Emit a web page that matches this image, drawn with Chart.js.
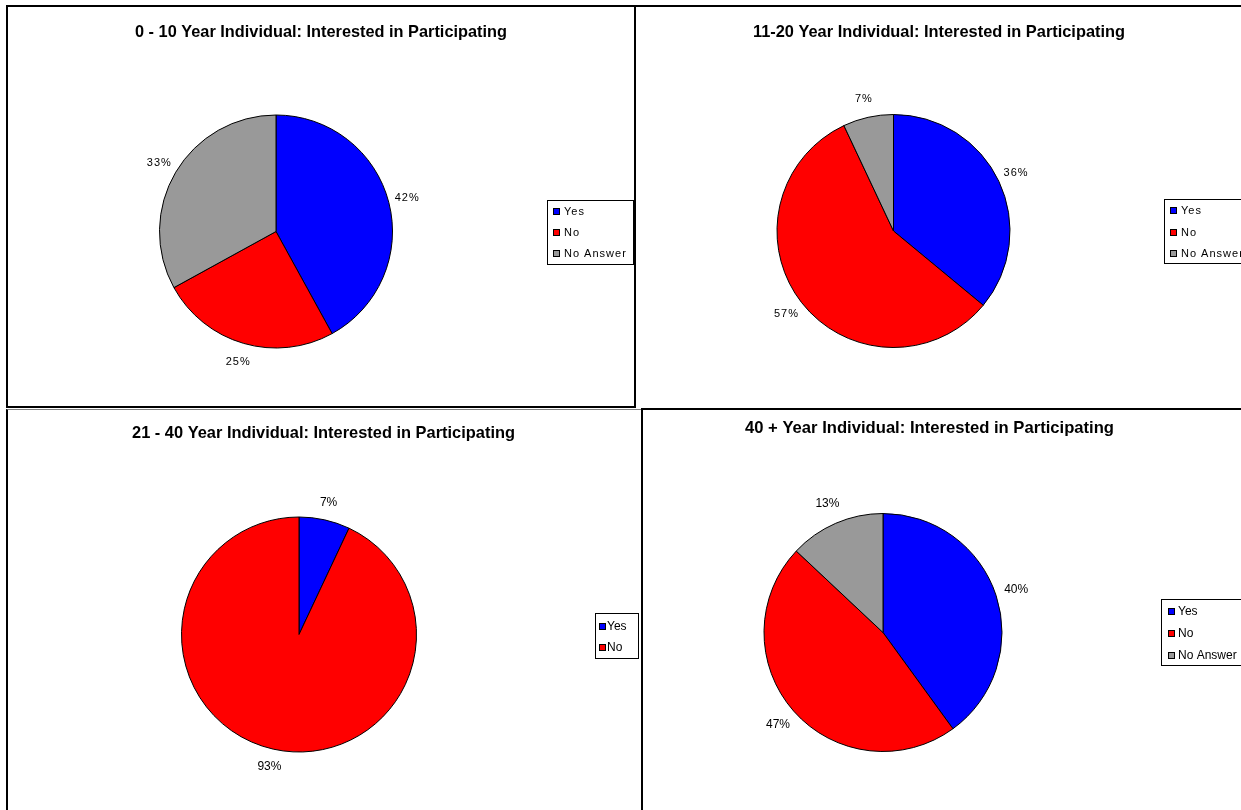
<!DOCTYPE html>
<html>
<head>
<meta charset="utf-8">
<title>Individual: Interested in Participating</title>
<script src="https://cdn.jsdelivr.net/npm/chart.js@4.4.1/dist/chart.umd.min.js"></script>
<style>
  html, body { margin: 0; padding: 0; background: #fff; width: 1241px; height: 810px; overflow: hidden; }
  .panel { position: absolute; box-sizing: border-box; border: 2px solid #000; background: #fff; overflow: hidden; }
  .panel canvas { position: absolute; left: 0; top: 0; }
  #p2 { border-bottom: none; }
  #p3 { border-top: 1px solid #808080; }
</style>
</head>
<body>
<div class="panel" id="p1" style="left:6px;top:5px;width:630px;height:403px"><canvas id="c1" width="626" height="399"></canvas></div>
<div class="panel" id="p2" style="left:634px;top:5px;width:612px;height:403px"><canvas id="c2" width="608" height="399"></canvas></div>
<div class="panel" id="p3" style="left:6px;top:409px;width:637px;height:410px"><canvas id="c3" width="633" height="406"></canvas></div>
<div class="panel" id="p4" style="left:641px;top:408px;width:610px;height:410px"><canvas id="c4" width="606" height="406"></canvas></div>

<script>
// Response categories and slice colours
const answersFull = ['Yes', 'No', 'No Answer'];
const answersYesNo = ['Yes', 'No'];
const answerColors = ['#0000FF', '#FF0000', '#999999'];

// Chart titles
const title0to10 = '0 - 10 Year Individual: Interested in Participating';
const title11to20 = '11-20 Year Individual: Interested in Participating';
const title21to40 = '21 - 40 Year Individual: Interested in Participating';
const title40plus = '40 + Year Individual: Interested in Participating';

// Share of respondents per answer (percent)
const share0to10 = [42, 25, 33];
const share11to20 = [36, 57, 7];
const share21to40 = [7, 93];
const share40plus = [40, 47, 13];

const FONT = "'Liberation Sans', Arial, sans-serif";
const TITLE_FONT = "'Liberation Sans Narrow', 'Liberation Sans', Arial, sans-serif";

// Title centred at a given point, condensed to the given width
const panelTitle = {
  id: 'panelTitle',
  afterDraw(chart, args, o) {
    const ctx = chart.ctx;
    ctx.save();
    ctx.font = 'bold ' + o.size + 'px ' + TITLE_FONT;
    ctx.fillStyle = '#000';
    ctx.textAlign = 'center';
    ctx.textBaseline = 'middle';
    const w = ctx.measureText(o.text).width;
    const sx = o.width ? o.width / w : 1;
    ctx.translate(o.x, o.y);
    ctx.scale(sx, 1);
    ctx.fillText(o.text, 0, 0);
    ctx.restore();
  }
};

// Percentage labels placed just outside each slice
const outsideLabels = {
  id: 'outsideLabels',
  afterDatasetsDraw(chart, args, o) {
    const ctx = chart.ctx;
    const values = chart.data.datasets[0].data;
    const total = values.reduce((a, b) => a + b, 0);
    ctx.save();
    ctx.font = o.size + 'px ' + FONT;
    if ('letterSpacing' in ctx) ctx.letterSpacing = (o.spacing || 0) + 'px';
    ctx.fillStyle = '#000';
    ctx.textAlign = 'center';
    ctx.textBaseline = 'middle';
    chart.getDatasetMeta(0).data.forEach((arc, i) => {
      const p = arc.getProps(['x', 'y', 'startAngle', 'endAngle', 'outerRadius'], true);
      const mid = (p.startAngle + p.endAngle) / 2;
      const d = p.outerRadius + o.gap;
      const text = Math.round(values[i] / total * 100) + '%';
      ctx.fillText(text, p.x + Math.cos(mid) * d, p.y + Math.sin(mid) * d);
    });
    ctx.restore();
  }
};

// Framed legend with small square swatches
const boxedLegend = {
  id: 'boxedLegend',
  afterDraw(chart, args, o) {
    const ctx = chart.ctx;
    const colors = chart.data.datasets[0].backgroundColor;
    ctx.save();
    ctx.lineWidth = 1;
    ctx.strokeStyle = '#000';
    ctx.strokeRect(o.x + 0.5, o.y + 0.5, o.w, o.h);
    ctx.font = o.size + 'px ' + FONT;
    if ('letterSpacing' in ctx) ctx.letterSpacing = (o.spacing || 0) + 'px';
    ctx.textAlign = 'left';
    ctx.textBaseline = 'middle';
    chart.data.labels.forEach((label, i) => {
      const cy = Math.round(o.y + o.first + i * o.step);
      const sx = o.x + o.sq;
      ctx.fillStyle = colors[i];
      ctx.fillRect(sx, cy - 3, 7, 7);
      ctx.strokeRect(sx + 0.5, cy - 2.5, 6, 6);
      ctx.fillStyle = '#000';
      ctx.fillText(label, o.x + o.tx, cy + 0.5);
    });
    ctx.restore();
  }
};

function drawPie(id, labels, values, g) {
  const canvas = document.getElementById(id);
  const W = canvas.width, H = canvas.height;
  return new Chart(canvas, {
    type: 'pie',
    data: {
      labels: labels,
      datasets: [{
        data: values,
        backgroundColor: answerColors.slice(0, values.length),
        borderColor: '#000',
        borderWidth: 1,
        hoverOffset: 0,
        radius: g.r
      }]
    },
    options: {
      responsive: false,
      devicePixelRatio: 1,
      animation: false,
      events: [],
      layout: {
        padding: { left: g.cx - g.r, right: W - g.cx - g.r, top: g.cy - g.r, bottom: H - g.cy - g.r }
      },
      plugins: {
        legend: { display: false },
        title: { display: false },
        tooltip: { enabled: false },
        panelTitle: g.title,
        outsideLabels: g.labels,
        boxedLegend: g.legend
      }
    },
    plugins: [panelTitle, outsideLabels, boxedLegend]
  });
}

drawPie('c1', answersFull, share0to10, {
  cx: 268, cy: 224.5, r: 116.5,
  title: { text: title0to10, x: 313, y: 25, size: 17, width: 372 },
  labels: { size: 11, spacing: 1, gap: 19 },
  legend: { x: 539, y: 193, w: 86, h: 64, first: 11, step: 21, sq: 6, tx: 17, size: 11, spacing: 1 }
});

drawPie('c2', answersFull, share11to20, {
  cx: 257.5, cy: 224, r: 116.5,
  title: { text: title11to20, x: 303, y: 25, size: 17, width: 372 },
  labels: { size: 11, spacing: 1, gap: 19 },
  legend: { x: 528, y: 192, w: 86, h: 64, first: 11, step: 21.5, sq: 6, tx: 17, size: 11, spacing: 1 }
});

drawPie('c3', answersYesNo, share21to40, {
  cx: 291, cy: 224.5, r: 117.5,
  title: { text: title21to40, x: 315.5, y: 23.5, size: 17, width: 383 },
  labels: { size: 12, spacing: 0, gap: 18 },
  legend: { x: 587, y: 203, w: 43, h: 45, first: 13, step: 21, sq: 4, tx: 12, size: 12, spacing: 0 }
});

drawPie('c4', answersFull, share40plus, {
  cx: 240, cy: 222.5, r: 119,
  title: { text: title40plus, x: 286.5, y: 18, size: 17, width: 369 },
  labels: { size: 12, spacing: 0, gap: 21 },
  legend: { x: 518, y: 189, w: 90, h: 66, first: 12, step: 22, sq: 7, tx: 17, size: 12, spacing: 0 }
});
</script>
</body>
</html>
